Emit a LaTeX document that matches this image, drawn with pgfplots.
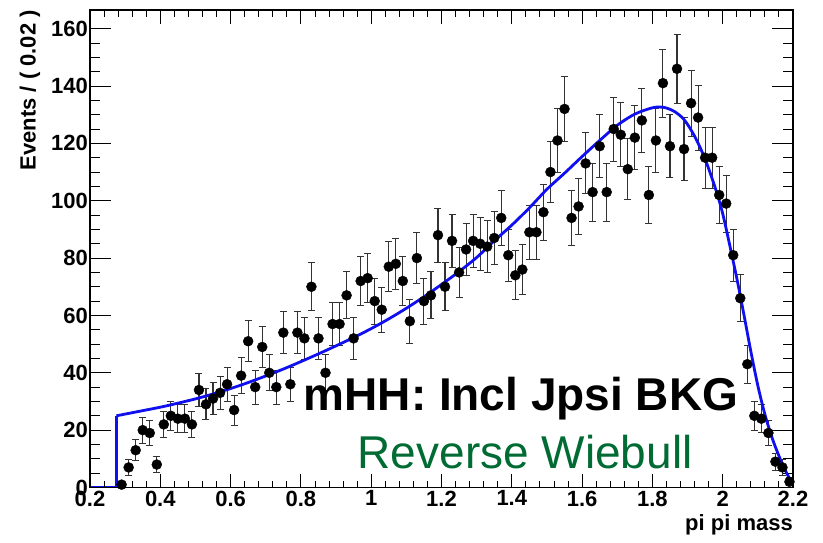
\documentclass[border=0pt]{standalone}
\usepackage{fontspec}
\setmainfont{Liberation Sans}
\usepackage{pgfplots}
\pgfplotsset{compat=1.18}
\usepackage{pgfplotstable}
\definecolor{rwgreen}{RGB}{0,107,51}
\definecolor{fitblue}{RGB}{15,15,240}

\pgfplotstableread{
x y e
0.29 1 1.00
0.31 7 2.65
0.33 13 3.61
0.35 20 4.47
0.37 19 4.36
0.39 8 2.83
0.41 22 4.69
0.43 25 5.00
0.45 24 4.90
0.47 24 4.90
0.49 22 4.69
0.51 34 5.83
0.53 29 5.39
0.55 31 5.57
0.57 33 5.74
0.59 36 6.00
0.61 27 5.20
0.63 39 6.24
0.65 51 7.14
0.67 35 5.92
0.69 49 7.00
0.71 40 6.32
0.73 35 5.92
0.75 54 7.35
0.77 36 6.00
0.79 54 7.35
0.81 52 7.21
0.83 70 8.37
0.85 52 7.21
0.87 40 6.32
0.89 57 7.55
0.91 57 7.55
0.93 67 8.19
0.95 52 7.21
0.97 72 8.49
0.99 73 8.54
1.01 65 8.06
1.03 62 7.87
1.05 77 8.77
1.07 78 8.83
1.09 72 8.49
1.11 58 7.62
1.13 80 8.94
1.15 65 8.06
1.17 67 8.19
1.19 88 9.38
1.21 70 8.37
1.23 86 9.27
1.25 75 8.66
1.27 83 9.11
1.29 86 9.27
1.31 85 9.22
1.33 84 9.17
1.35 87 9.33
1.37 94 9.70
1.39 81 9.00
1.41 74 8.60
1.43 76 8.72
1.45 89 9.43
1.47 89 9.43
1.49 96 9.80
1.51 110 10.49
1.53 121 11.00
1.55 132 11.49
1.57 94 9.70
1.59 98 9.90
1.61 113 10.63
1.63 103 10.15
1.65 119 10.91
1.67 103 10.15
1.69 125 11.18
1.71 123 11.09
1.73 111 10.54
1.75 122 11.05
1.77 128 11.31
1.79 102 10.10
1.81 121 11.00
1.83 141 11.87
1.85 119 10.91
1.87 146 12.08
1.89 118 10.86
1.91 134 11.58
1.93 129 11.36
1.95 115 10.72
1.97 115 10.72
1.99 102 10.10
2.01 99 9.95
2.03 81 9.00
2.05 66 8.12
2.07 43 6.56
2.09 25 5.00
2.11 24 4.90
2.13 19 4.36
2.15 9 3.00
2.17 7 2.65
2.19 2 1.41
}\datatab

\pgfplotstableread{
x y
0.275 25
0.30 25.6
0.35 26.8
0.40 28.0
0.45 29.4
0.50 30.9
0.55 32.6
0.60 34.5
0.65 36.6
0.70 38.9
0.75 41.3
0.80 43.9
0.85 46.6
0.90 49.4
0.95 52.3
1.00 55.4
1.05 58.8
1.10 62.5
1.15 66.5
1.20 70.8
1.25 75.3
1.30 80.2
1.35 86.0
1.40 91.5
1.45 97.5
1.50 104.0
1.55 109.6
1.60 115.4
1.65 121.0
1.70 126.3
1.75 130.2
1.80 132.4
1.83 132.6
1.86 131.3
1.89 128.3
1.92 122.5
1.95 114.5
1.98 104.0
2.00 95.5
2.02 84.5
2.04 73.0
2.06 60.5
2.08 47.5
2.10 35.5
2.12 25.5
2.14 17.5
2.16 11.0
2.18 5.5
2.20 1.0
}\curvetab

\begin{document}
\begin{tikzpicture}
\pgfplotsset{
  common/.style={
    at={(90pt,54.5pt)}, anchor=south west,
    scale only axis, width=703pt, height=477.5pt,
    xmin=0.2, xmax=2.2, ymin=0, ymax=166.5,
    axis line style={line width=1.1pt, black},
    tick style={line width=0.9pt, black},
    tick align=inside,
    /pgf/number format/assume math mode=true,
    tick label style={font=\bfseries\fontsize{22}{22}\selectfont},
  }
}
\begin{axis}[common,
  xtick=\empty,
  ytick={0,20,40,60,80,100,120,140,160},
  minor y tick num=3,
  major tick length=21pt, minor tick length=10.5pt,
  ytick pos=both, yticklabel pos=left,
  yticklabel style={inner sep=2pt},
]
\addplot[only marks, mark=*, mark size=5pt, black,
  mark options={fill=black, draw=black},
  error bars/.cd, y dir=both, y explicit,
  error bar style={line width=1.1pt, black!80},
  error mark options={rotate=90, mark size=3.5pt, line width=0.9pt, black!80}]
  table[x=x, y=y, y error=e] {\datatab};
\addplot[fitblue, line width=2.8pt, sharp plot, line join=round] coordinates {(0.2,0) (0.275,0) (0.275,25)};
\addplot[fitblue, line width=2.8pt, smooth, line join=round] table[x=x, y=y] {\curvetab};
\end{axis}
\begin{axis}[common,
  ytick=\empty,
  xtick={0.2,0.4,0.6,0.8,1,1.2,1.4,1.6,1.8,2,2.2},
  xticklabels={0.2,0.4,0.6,0.8,1,1.2,1.4,1.6,1.8,2,2.2},
  minor x tick num=4,
  major tick length=14pt, minor tick length=7pt,
  xtick pos=both, xticklabel pos=bottom,
  xticklabel style={inner sep=3pt},
  xlabel={pi pi mass},
  xlabel style={at={(axis description cs:1,-0.089)}, anchor=base east, inner sep=0pt, font=\bfseries\fontsize{22}{22}\selectfont},
  ylabel={Events / ( 0.02 )},
  ylabel style={at={(axis description cs:-0.0853,1)}, anchor=east, inner sep=0pt, font=\bfseries\fontsize{22}{22}\selectfont},
]
\node[font=\bfseries\fontsize{46}{46}\selectfont, anchor=base, inner sep=0pt] at (axis description cs:0.613,0.1623) {mHH: Incl Jpsi BKG};
\node[font=\fontsize{46}{46}\selectfont, text=rwgreen, anchor=base, inner sep=0pt] at (axis description cs:0.619,0.0408) {Reverse Wiebull};
\end{axis}
\pgfresetboundingbox
\useasboundingbox (0,0) rectangle (823pt,542pt);
\end{tikzpicture}
\end{document}
